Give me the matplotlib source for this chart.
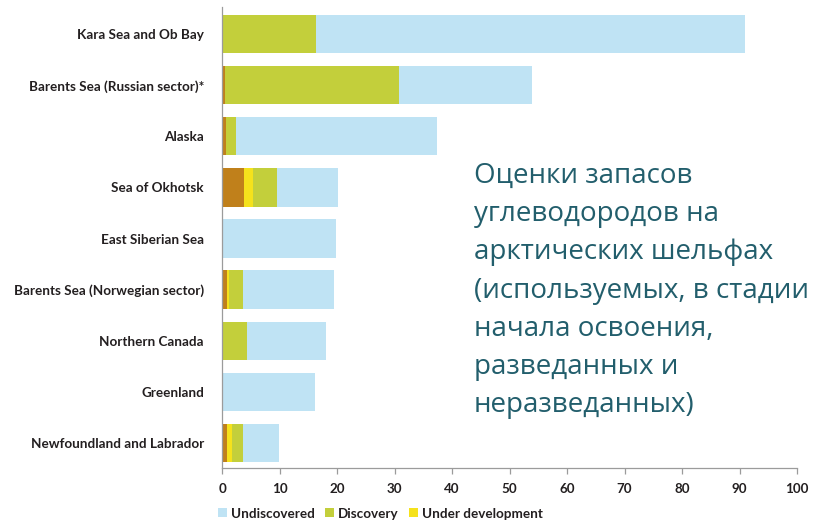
import matplotlib.pyplot as plt
import numpy as np

# hydrocarbon resources by shelf region, billion barrels of oil equivalent
regions = ["Kara Sea and Ob Bay", "Barents Sea (Russian sector)*", "Alaska",
           "Sea of Okhotsk", "East Siberian Sea", "Barents Sea (Norwegian sector)",
           "Northern Canada", "Greenland", "Newfoundland and Labrador"]
producing = [0.0, 0.5, 0.7, 3.9, 0.0, 0.9, 0.0, 0.0, 0.8]
under_development = [0.0, 0.0, 0.0, 1.4, 0.0, 0.3, 0.0, 0.0, 0.9]
discovery = [16.3, 30.3, 1.7, 4.2, 0.0, 2.5, 4.3, 0.0, 2.0]
undiscovered = [74.7, 23.1, 35.0, 10.6, 19.9, 15.8, 13.7, 16.2, 6.2]
xticks = list(range(0, 101, 10))

title_lines = ["Оценки запасов", "углеводородов на", "арктических шельфах",
               "(используемых, в стадии", "начала освоения,",
               "разведанных и", "неразведанных)"]

c_und = "#bfe3f4"
c_disc = "#c3cf3b"
c_dev = "#f5e21c"
c_prod = "#c0801b"
dark = "#231f20"
grey = "#9b9b9b"

plt.rcParams["font.family"] = ["Lato", "DejaVu Sans"]

fig = plt.figure(figsize=(8.13, 5.2), dpi=100)
ax = fig.add_axes([0.2731, 0.1, 0.7073, 0.8865])

y = np.arange(len(regions))
h = 0.75
left = np.zeros(len(regions))
b_prod = ax.barh(y, producing, h, left=left, color=c_prod, label="Producing")
left += producing
b_dev = ax.barh(y, under_development, h, left=left, color=c_dev, label="Under development")
left += under_development
b_disc = ax.barh(y, discovery, h, left=left, color=c_disc, label="Discovery")
left += discovery
b_und = ax.barh(y, undiscovered, h, left=left, color=c_und, label="Undiscovered")

ax.set_xlim(0, 100)
ax.set_ylim(8.49, -0.53)
ax.set_yticks(y)
ax.set_yticklabels(regions, fontsize=9.7, fontweight="bold", color=dark)
ax.set_xticks(xticks)
ax.set_xticklabels([str(t) for t in xticks], fontsize=9.6, fontweight="bold", color=dark)
ax.tick_params(axis="y", length=0, pad=13)
ax.tick_params(axis="x", length=4, width=0.9, color=grey, pad=7)
for s in ["top", "right"]:
    ax.spines[s].set_visible(False)
for s in ["left", "bottom"]:
    ax.spines[s].set_color(grey)
    ax.spines[s].set_linewidth(0.9)

leg = ax.legend(handles=[b_und, b_disc, b_dev], loc="upper left",
                bbox_to_anchor=(-0.017, -0.074), ncol=3, frameon=False,
                handlelength=0.68, handleheight=0.68, handletextpad=0.3,
                columnspacing=0.75, borderaxespad=0,
                prop={"size": 9.7, "weight": "bold"})
for t in leg.get_texts():
    t.set_color(dark)

# annotation block on the right
for i, line in enumerate(title_lines):
    fig.text(474 / 813, 1 - (183 + 38.2 * i) / 520, line, fontsize=20,
             family=["Open Sans", "DejaVu Sans"], color="#225e6c",
             va="baseline", ha="left")

fig.savefig("out.png", dpi=100)
